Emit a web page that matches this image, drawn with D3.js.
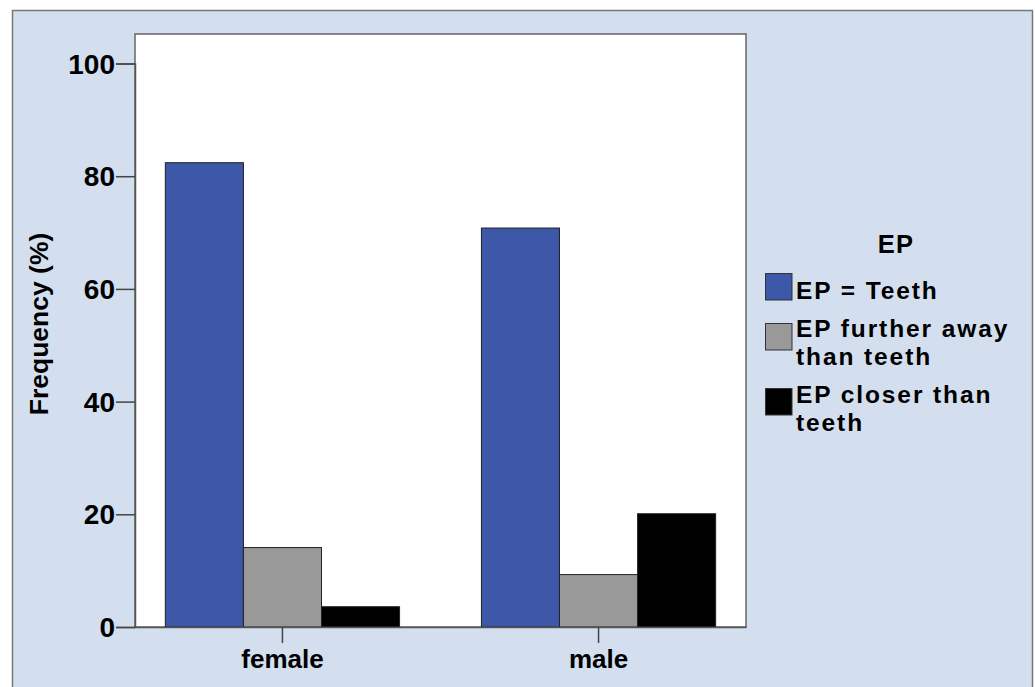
<!DOCTYPE html>
<html><head><meta charset="utf-8">
<script src="https://cdn.jsdelivr.net/npm/d3@7"></script>
<style>html,body{margin:0;padding:0;background:#fff;}svg{display:block;font-family:"Liberation Sans",Arial,sans-serif;font-weight:bold;}</style>
</head><body>
<svg id="c" width="1035" height="687"></svg>
<script>
const categories = ["female", "male"];
const seriesNames = ["EP = Teeth", "EP further away than teeth", "EP closer than teeth"];
const legendLines = [["EP = Teeth"], ["EP further away", "than teeth"], ["EP closer than", "teeth"]];
const teeth = [82.4, 70.8];
const further = [14.1, 9.3];
const closer = [3.6, 20.1];
const yTicks = [0, 20, 40, 60, 80, 100];
const colors = ["#3d57a9", "#999999", "#000000"];

const series = [teeth, further, closer];
const svg = d3.select("#c");
const FF = "Liberation Sans, Arial, sans-serif";
// outer frame
svg.append("rect").attr("x", 12.5).attr("y", 10.5).attr("width", 1020).attr("height", 690)
  .attr("fill", "#d3dfee").attr("stroke", "#777").attr("stroke-width", 1.5);

const L = 135, R = 746, T = 34, B = 627;
svg.append("rect").attr("x", L).attr("y", T).attr("width", R - L).attr("height", B - T)
  .attr("fill", "#fff").attr("stroke", "#666").attr("stroke-width", 1.5);

const y = d3.scaleLinear().domain([0, 100]).range([B, 63.5]);
const x0 = d3.scaleBand().domain(categories).range([L, R]).paddingInner(0.259).paddingOuter(0.096);
const x1 = d3.scaleBand().domain(d3.range(series.length)).range([0, x0.bandwidth()]);

const g = svg.append("g");
categories.forEach((c, ci) => {
  series.forEach((s, si) => {
    g.append("rect")
      .attr("x", x0(c) + x1(si))
      .attr("y", y(s[ci]))
      .attr("width", x1.bandwidth())
      .attr("height", y(0) - y(s[ci]))
      .attr("fill", colors[si])
      .attr("stroke", "#222").attr("stroke-width", 1);
  });
});

// y axis
const ya = svg.append("g").attr("transform", `translate(${L},0)`)
  .call(d3.axisLeft(y).tickValues(yTicks).tickSize(19).tickPadding(1).tickFormat(d3.format("d")));
ya.select(".domain").attr("stroke", "#555").attr("stroke-width", 1.5);
ya.selectAll(".tick line").attr("stroke", "#444").attr("stroke-width", 1.5);
ya.selectAll("text").attr("font-size", 28).attr("font-weight", "bold").attr("fill", "#000")
  .attr("font-family", FF).attr("dy", "0.34em");

// x axis
const xa = svg.append("g").attr("transform", `translate(0,${B})`)
  .call(d3.axisBottom(x0).tickSize(16).tickSizeOuter(0).tickPadding(8));
xa.select(".domain").attr("stroke", "#555").attr("stroke-width", 1.5);
xa.selectAll(".tick line").attr("stroke", "#444").attr("stroke-width", 1.5);
xa.selectAll("text").attr("font-size", 26).attr("font-weight", "bold").attr("fill", "#000")
  .attr("font-family", FF).attr("dy", null).attr("y", 41);

// y label
svg.append("text").attr("transform", `translate(48,324) rotate(-90)`)
  .attr("text-anchor", "middle").attr("font-size", 26.5).attr("fill", "#000").text("Frequency (%)");

// legend
svg.append("text").attr("x", 896).attr("y", 253).attr("text-anchor", "middle")
  .attr("font-size", 25.5).attr("letter-spacing", 1.2).attr("fill", "#000").text("EP");
const swY = [273, 323, 388];
const txtY = [299, 336.5, 402.5];
seriesNames.forEach((n, i) => {
  svg.append("rect").attr("x", 765.5).attr("y", swY[i] + 0.5).attr("width", 26.5).attr("height", 26.5)
    .attr("fill", colors[i]).attr("stroke", "#333").attr("stroke-width", 1);
  const t = svg.append("text").attr("x", 796).attr("y", txtY[i]).attr("font-size", 24.5)
    .attr("letter-spacing", 1.9).attr("fill", "#000");
  legendLines[i].forEach((ln, j) => {
    t.append("tspan").attr("x", 796).attr("dy", j === 0 ? 0 : 28.2).text(ln);
  });
});
</script>
</body></html>
